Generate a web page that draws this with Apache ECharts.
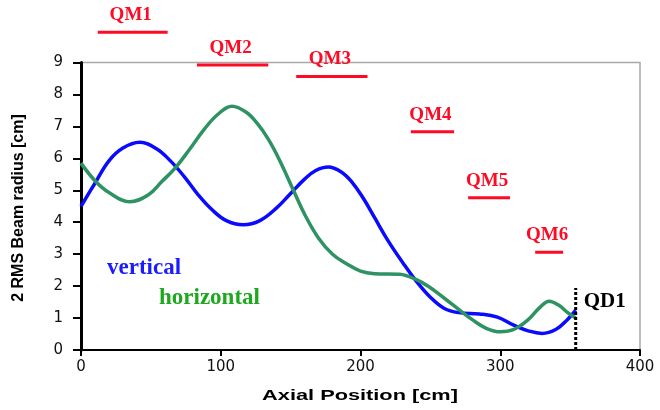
<!DOCTYPE html>
<html>
<head>
<meta charset="utf-8">
<script src="https://cdn.jsdelivr.net/npm/echarts@6/dist/echarts.min.js"></script>
<style>
  html, body { margin: 0; padding: 0; background: #fff; }
  #chart { width: 660px; height: 410px; }
</style>
</head>
<body>
<div id="chart"></div>
<script>
// Beam envelope along the transport line (2 RMS radius, cm)
const posVertical = [0, 10, 20, 30, 42, 54, 64, 74, 84, 94, 104, 116, 128, 140, 150, 160, 168, 177, 186, 194, 202, 210, 220, 230, 240, 250, 260, 270, 285, 298, 310, 320, 330, 340, 348, 354];
const vertical    = [4.5, 5.22, 5.92, 6.32, 6.5, 6.3, 5.92, 5.42, 4.85, 4.38, 4.05, 3.92, 4.05, 4.45, 4.9, 5.35, 5.62, 5.73, 5.58, 5.25, 4.75, 4.15, 3.4, 2.75, 2.15, 1.65, 1.3, 1.17, 1.13, 1.03, 0.77, 0.6, 0.52, 0.65, 0.95, 1.25];

const posHorizontal = [0, 10, 20, 35, 48, 58, 67.5, 78, 88, 98, 108, 118, 126, 134, 142, 152, 160, 170, 180, 190, 200, 210, 228, 240, 250, 260, 270, 280, 290, 300, 310, 320, 328, 335, 342, 348, 354];
const horizontal    = [5.85, 5.3, 4.93, 4.64, 4.85, 5.28, 5.7, 6.3, 6.9, 7.38, 7.63, 7.45, 7.1, 6.6, 5.95, 5.0, 4.25, 3.5, 3.0, 2.7, 2.47, 2.39, 2.37, 2.2, 1.95, 1.62, 1.28, 0.95, 0.68, 0.57, 0.65, 0.95, 1.32, 1.53, 1.4, 1.18, 1.0];

// Quadrupole magnets: longitudinal extent and drawing height
const magnetNames  = ['QM1', 'QM2', 'QM3', 'QM4', 'QM5', 'QM6'];
const magnetStart  = [12, 83, 154, 236, 277, 325];
const magnetEnd    = [62, 134, 205, 267, 307, 345];
const magnetLevel  = [9.95, 8.92, 8.56, 6.83, 4.77, 3.06];

// Defocusing quad at the end of the line
const qdName = 'QD1';
const qdPos = 354;
const qdTop = 1.94;
const qdLabelLevel = 1.53;

const xTicks = [0, 100, 200, 300, 400];
const yTicks = [0, 1, 2, 3, 4, 5, 6, 7, 8, 9];

const toPairs = (xs, ys) => xs.map((x, i) => [x, ys[i]]);

const magnetData = magnetNames.map((n, i) => [magnetStart[i], magnetEnd[i], magnetLevel[i], i]);

const chart = echarts.init(document.getElementById('chart'), null, { renderer: 'canvas' });

const serif = 'Liberation Serif';
const sans = 'Liberation Sans';
const wide = 'DejaVu Sans';

chart.setOption({
  animation: false,
  backgroundColor: '#fff',
  grid: {
    left: 81, right: 20, top: 62.5, bottom: 60,
    show: true, borderColor: '#a8a8a8', borderWidth: 1.5, backgroundColor: 'transparent'
  },
  xAxis: {
    type: 'value', min: xTicks[0], max: xTicks[xTicks.length - 1], interval: 100,
    axisLine: { show: true, onZero: false, lineStyle: { color: '#000', width: 2 } },
    axisTick: { show: true, length: 6, lineStyle: { color: '#000', width: 2 } },
    splitLine: { show: false },
    axisLabel: { fontFamily: wide, fontSize: 15, color: '#111', margin: 10 }
  },
  yAxis: {
    type: 'value', min: yTicks[0], max: yTicks[yTicks.length - 1], interval: 1,
    axisLine: { show: true, onZero: false, lineStyle: { color: '#000', width: 3 } },
    axisTick: { show: true, length: 8, lineStyle: { color: '#000', width: 2 } },
    splitLine: { show: false },
    axisLabel: { fontFamily: wide, fontSize: 15, color: '#111', margin: 18 }
  },
  graphic: [
    { type: 'text', x: 19, y: 208, rotation: Math.PI / 2,
      style: { text: '2 RMS Beam radius [cm]', fontFamily: sans, fontWeight: 'bold', fontSize: 16, fill: '#000', align: 'center', verticalAlign: 'middle' } },
    { type: 'text', x: 360, y: 396, scaleX: 1.45,
      style: { text: 'Axial Position [cm]', fontFamily: sans, fontWeight: 'bold', fontSize: 15, fill: '#000', align: 'center', verticalAlign: 'middle' } },
    { type: 'text', x: 107, y: 268,
      style: { text: 'vertical', fontFamily: serif, fontWeight: 'bold', fontSize: 23, fill: '#1c1cff', align: 'left', verticalAlign: 'middle' } },
    { type: 'text', x: 159, y: 298,
      style: { text: 'horizontal', fontFamily: serif, fontWeight: 'bold', fontSize: 23, fill: '#1ea81e', align: 'left', verticalAlign: 'middle' } }
  ],
  series: [
    {
      name: 'vertical', type: 'line', data: toPairs(posVertical, vertical),
      smooth: 0.4, showSymbol: false, clip: false,
      lineStyle: { color: '#0a0aff', width: 3.5 }, z: 3
    },
    {
      name: 'horizontal', type: 'line', data: toPairs(posHorizontal, horizontal),
      smooth: 0.4, showSymbol: false, clip: false,
      lineStyle: { color: '#2e9262', width: 3.5 }, z: 4
    },
    {
      name: 'magnets', type: 'custom', clip: false, z: 5,
      data: magnetData,
      encode: { x: [0, 1], y: 2 },
      renderItem: function (params, api) {
        const a = api.coord([api.value(0), api.value(2)]);
        const b = api.coord([api.value(1), api.value(2)]);
        const name = magnetNames[api.value(3)];
        return {
          type: 'group',
          children: [
            { type: 'line', shape: { x1: a[0], y1: a[1], x2: b[0], y2: b[1] },
              style: { stroke: '#ff0a24', lineWidth: 3 } },
            { type: 'text', x: (a[0] + b[0]) / 2 - 2, y: a[1] - 17,
              style: { text: name, fontFamily: serif, fontWeight: 'bold', fontSize: 19, fill: '#ff0a24', align: 'center', verticalAlign: 'middle' } }
          ]
        };
      }
    },
    {
      name: 'qd', type: 'custom', clip: false, z: 6,
      data: [[qdPos, 0, qdTop, qdLabelLevel]],
      encode: { x: 0, y: [1, 2] },
      renderItem: function (params, api) {
        const p0 = api.coord([api.value(0), api.value(1)]);
        const p1 = api.coord([api.value(0), api.value(2)]);
        const pl = api.coord([api.value(0), api.value(3)]);
        return {
          type: 'group',
          children: [
            { type: 'line', shape: { x1: p0[0], y1: p0[1], x2: p1[0], y2: p1[1] },
              style: { stroke: '#000', lineWidth: 3, lineDash: [3, 2] } },
            { type: 'text', x: pl[0] + 8, y: pl[1],
              style: { text: qdName, fontFamily: serif, fontWeight: 'bold', fontSize: 21, fill: '#000', align: 'left', verticalAlign: 'middle' } }
          ]
        };
      }
    }
  ]
});
</script>
</body>
</html>
